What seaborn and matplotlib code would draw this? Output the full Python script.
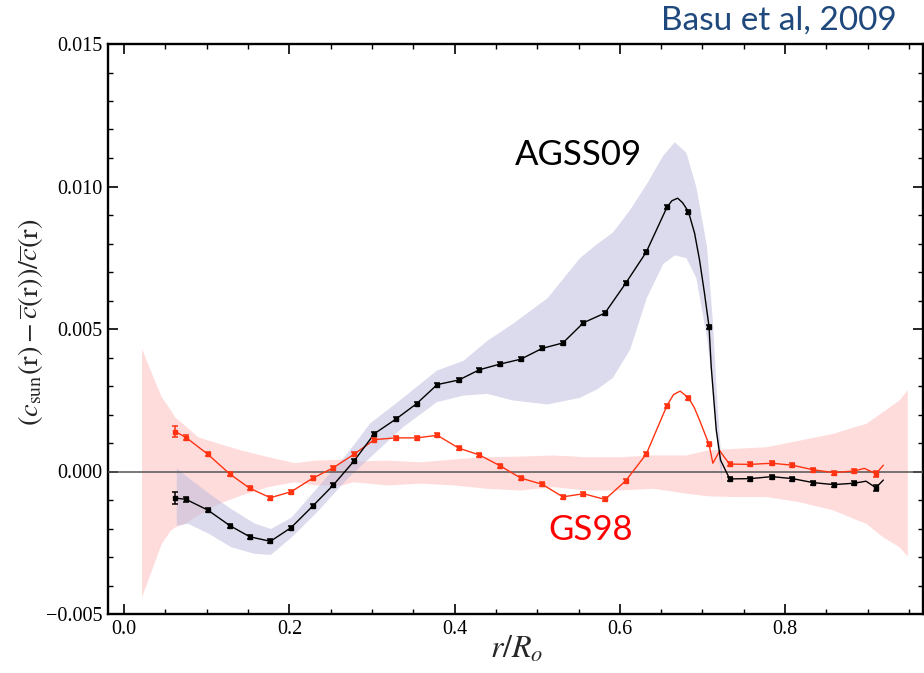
import numpy as np
import pandas as pd
import matplotlib
matplotlib.use("Agg")
import matplotlib.pyplot as plt
from matplotlib.ticker import MultipleLocator, FuncFormatter
import seaborn as sns

# ---------------- data ----------------
r_pts = [0.062, 0.075, 0.101, 0.128, 0.152, 0.177, 0.202, 0.228, 0.253, 0.278,
         0.303, 0.329, 0.354, 0.379, 0.405, 0.430, 0.455, 0.480, 0.506, 0.531,
         0.556, 0.582, 0.607, 0.632, 0.657, 0.683, 0.708, 0.733, 0.758, 0.784,
         0.809, 0.834, 0.859, 0.884, 0.910]

agss09 = [-0.00093, -0.00098, -0.00135, -0.0019, -0.00229, -0.00245, -0.00197,
          -0.00122, -0.00048, 0.00036, 0.00133, 0.00184, 0.00238, 0.00305,
          0.00321, 0.00357, 0.00377, 0.00394, 0.00432, 0.00451, 0.00522,
          0.00556, 0.0066, 0.0077, 0.00927, 0.00912, 0.00508, -0.00026,
          -0.00025, -0.00018, -0.00025, -0.00039, -0.00046, -0.00041, -0.00057]

gs98 = [0.0014, 0.00119, 0.00061, -0.00009, -0.00059, -0.00092, -0.00071,
        -0.00024, 0.00013, 0.0006, 0.00112, 0.00118, 0.00118, 0.00127, 0.00082,
        0.00058, 0.0002, -0.00023, -0.00045, -0.00089, -0.00078, -0.00098,
        -0.00033, 0.00061, 0.00231, 0.00259, 0.00095, 0.00026, 0.00025,
        0.00029, 0.00022, 0.00006, -0.00004, 0.00002, -0.00008]

agss09_err = [0.0002, 0.0001] + [0.00007] * 32 + [0.0001]
gs98_err = [0.0002, 0.0001] + [0.00007] * 32 + [0.0001]

# extra points (between the markers)
agss09_curve_r = [0.663, 0.670, 0.676, 0.6905, 0.6965, 0.7025, 0.7106, 0.7167,
                  0.7219, 0.898, 0.919]
agss09_curve_v = [0.0095, 0.00959, 0.00943, 0.00836, 0.00742, 0.00625, 0.00368,
                  0.00146, 0.0004, -0.00034, -0.0003]
gs98_curve_r = [0.665, 0.673, 0.690, 0.6965, 0.7126, 0.721, 0.726, 0.896, 0.919]
gs98_curve_v = [0.0027, 0.00282, 0.00225, 0.0018, 0.00029, 0.00073, 0.00052,
                0.00011, 0.00022]

# uncertainty bands
gs98_band_r = [0.021, 0.021, 0.033, 0.045, 0.056, 0.061, 0.073, 0.089, 0.114,
               0.142, 0.174, 0.206, 0.231, 0.263, 0.277, 0.318, 0.358, 0.398,
               0.439, 0.479, 0.519, 0.559, 0.600, 0.640, 0.680, 0.705, 0.737,
               0.777, 0.817, 0.858, 0.878, 0.898, 0.918, 0.938, 0.948]
gs98_band_hi = [0.00432, 0.00432, 0.00345, 0.00262, 0.00216, 0.00192, 0.00163,
                0.00122, 0.00099, 0.00075, 0.00052, 0.00031, 0.0004, 0.00043,
                0.00037, 0.0004, 0.00034, 0.00044, 0.00052, 0.00054, 0.00058,
                0.00052, 0.00052, 0.00058, 0.00058, 0.00075, 0.00081, 0.00087,
                0.0011, 0.00134, 0.00152, 0.00169, 0.0021, 0.00251, 0.00288]
gs98_band_lo = [-0.0044, -0.0044, -0.00346, -0.00252, -0.00205, -0.00195,
                -0.00182, -0.00153, -0.00112, -0.00082, -0.00053, -0.00036,
                -0.00047, -0.00047, -0.00036, -0.00047, -0.00041, -0.00047,
                -0.00059, -0.00065, -0.00053, -0.00065, -0.00065, -0.00059,
                -0.00076, -0.00085, -0.00088, -0.00088, -0.00106, -0.00135,
                -0.00159, -0.00182, -0.00229, -0.00264, -0.00296]

agss09_band_r = [0.063, 0.077, 0.102, 0.129, 0.157, 0.177, 0.202, 0.235, 0.271,
                 0.297, 0.337, 0.378, 0.410, 0.439, 0.470, 0.512, 0.551, 0.572,
                 0.591, 0.612, 0.632, 0.652, 0.666, 0.680, 0.692, 0.705, 0.712,
                 0.718, 0.723]
agss09_band_hi = [0.00013, -0.0002, -0.00075, -0.0013, -0.0018, -0.002, -0.0016,
                  -0.0005, 0.0007, 0.0017, 0.0026, 0.00356, 0.0039, 0.0046,
                  0.0052, 0.0061, 0.0075, 0.008, 0.0084, 0.0092, 0.0101, 0.0111,
                  0.01157, 0.0112, 0.0100, 0.0079, 0.0053, 0.0022, 0.0002]
agss09_band_lo = [-0.00188, -0.00182, -0.00217, -0.00264, -0.00287, -0.00291,
                  -0.0023, -0.00135, -0.0002, 0.0005, 0.00157, 0.00245, 0.00268,
                  0.00274, 0.00251, 0.00237, 0.0026, 0.0029, 0.0033, 0.0043,
                  0.0061, 0.0073, 0.0076, 0.0075, 0.0068, 0.0047, 0.003, 0.0008,
                  -0.0004]

x_ticks = [0.0, 0.2, 0.4, 0.6, 0.8]
y_ticks = [-0.005, 0.0, 0.005, 0.010, 0.015]

# ---------------- styling ----------------
sns.set_theme(style="ticks")
plt.rcParams["font.family"] = ["Liberation Serif", "DejaVu Serif"]
plt.rcParams["mathtext.fontset"] = "stix"
plt.rcParams["axes.unicode_minus"] = True

RED = "#ff3311"
PINK = "#ffdcdc"
BLUE = "#b9b9dd"

fig = plt.figure(figsize=(9.24, 6.73), dpi=100)
ax = fig.add_axes([108 / 924, 59 / 673, 815 / 924, 570 / 673])

# bands
ax.fill_between(gs98_band_r, gs98_band_lo, gs98_band_hi, color=PINK, lw=0, zorder=1)
ax.fill_between(agss09_band_r, agss09_band_lo, agss09_band_hi, color=BLUE,
                alpha=0.5, lw=0, zorder=2)

# zero line
ax.axhline(0.0, color="#555555", lw=1.1, zorder=3)

# model curves
black_df = pd.DataFrame({"r": r_pts + agss09_curve_r,
                         "v": agss09 + agss09_curve_v}).sort_values("r")
red_df = pd.DataFrame({"r": r_pts + gs98_curve_r,
                       "v": gs98 + gs98_curve_v}).sort_values("r")
sns.lineplot(data=red_df, x="r", y="v", sort=False, estimator=None,
             color=RED, lw=1.0, ax=ax, zorder=4)
sns.lineplot(data=black_df, x="r", y="v", sort=False, estimator=None,
             color="black", lw=1.0, ax=ax, zorder=5)

# points with error bars
ax.errorbar(r_pts, gs98, yerr=gs98_err, fmt="s", ms=2.6, color=RED,
            ecolor=RED, elinewidth=1.1, capsize=2.0, capthick=1.1, zorder=6)
ax.errorbar(r_pts, agss09, yerr=agss09_err, fmt="s", ms=2.6, color="black",
            ecolor="black", elinewidth=1.1, capsize=2.0, capthick=1.1, zorder=7)

# axes
ax.set_xlim(-0.0196, 0.967)
ax.set_ylim(-0.005, 0.015)
ax.set_xticks(x_ticks)
ax.set_yticks(y_ticks)
ax.xaxis.set_minor_locator(MultipleLocator(0.05))
ax.yaxis.set_minor_locator(MultipleLocator(0.001))
ax.xaxis.set_major_formatter(FuncFormatter(lambda v, p: f"{v:.1f}".replace("-", "\u2212")))
ax.yaxis.set_major_formatter(FuncFormatter(
    lambda v, p: ("0.000" if abs(v) < 1e-12 else f"{v:.3f}").replace("-", "\u2212")))
ax.tick_params(which="both", direction="in", top=True, right=True,
               colors="black", labelsize=14.5)
ax.tick_params(which="major", length=7, width=1.2, pad=4)
ax.tick_params(which="minor", length=3.5, width=1.0)
for s in ax.spines.values():
    s.set_linewidth(1.7)
    s.set_color("black")

ax.set_xlabel(r"$r/R_o$", fontsize=23)
ax.xaxis.set_label_coords(0.502, -0.037)
ax.xaxis.label.set_va("top")
ax.set_ylabel(r"$(c_{\mathrm{sun}}(\mathrm{r})-\overline{c}(\mathrm{r}))/\overline{c}(\mathrm{r})$",
              fontsize=20.5)
ax.yaxis.set_label_coords(-0.077, 0.512)

# annotations
sans = ["Lato", "DejaVu Sans"]
ax.text(0.473, 0.01075, "AGSS09", family=sans, fontsize=25, color="black",
        ha="left", va="baseline", zorder=8)
ax.text(0.513, -0.0024, "GS98", family=sans, fontsize=25, color="#ff0000",
        ha="left", va="baseline", zorder=8)
fig.text(897 / 924, (673 - 30) / 673, "Basu et al, 2009", family=sans,
         fontsize=24, color="#1f497d", ha="right", va="baseline")

fig.savefig("out.png", dpi=100)
